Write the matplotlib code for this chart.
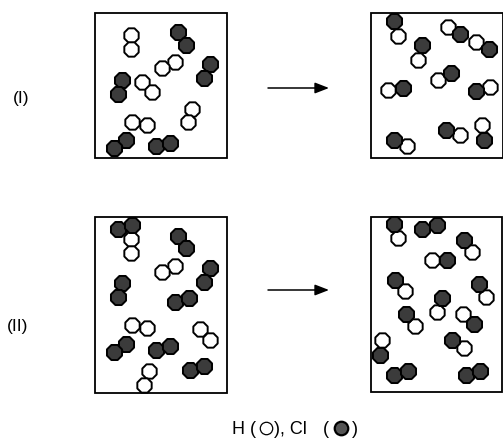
import matplotlib
matplotlib.use('Agg')
import matplotlib.pyplot as plt
from matplotlib.patches import Rectangle

plt.rcParams['font.family'] = ['Liberation Sans', 'DejaVu Sans']

# atom centres, in image pixels (x, y)
top_left_h = [(131, 35), (131, 49), (175, 62), (162, 68), (142, 82), (152, 92),
              (192, 109), (188, 122), (132, 122), (147, 125)]
top_left_cl = [(178, 32), (186, 45), (210, 64), (204, 78), (122, 80), (118, 94),
               (126, 140), (114, 148), (156, 146), (170, 143)]

top_right_h = [(398, 36), (418, 60), (448, 27), (476, 42), (438, 80), (388, 90),
               (490, 87), (460, 135), (407, 146), (482, 125)]
top_right_cl = [(394, 21), (422, 45), (460, 34), (489, 49), (451, 73), (403, 88),
                (476, 91), (446, 130), (394, 140), (484, 140)]

bottom_left_h = [(131, 239), (131, 253), (175, 266), (162, 272), (132, 325), (147, 328),
                 (200, 329), (210, 340), (149, 371), (144, 385)]
bottom_left_cl = [(118, 229), (132, 225), (178, 236), (186, 248), (210, 268), (204, 282),
                  (122, 283), (118, 297), (175, 302), (189, 298), (126, 344), (114, 352),
                  (156, 350), (170, 346), (190, 370), (204, 366)]

bottom_right_h = [(398, 238), (472, 252), (432, 260), (405, 291), (486, 297), (437, 312),
                  (415, 326), (463, 314), (464, 348), (382, 340)]
bottom_right_cl = [(394, 224), (422, 229), (437, 225), (464, 240), (447, 260), (395, 280),
                   (479, 284), (442, 298), (406, 314), (474, 324), (452, 340), (380, 355),
                   (394, 375), (408, 371), (466, 375), (480, 371)]

fig = plt.figure(figsize=(5.03, 4.38), dpi=100)
ax = fig.add_axes([0, 0, 1, 1])
ax.set_xlim(0, 503)
ax.set_ylim(438, 0)
ax.axis('off')

# boxes
for x0, y0, x1, y1 in [(95, 13, 227, 158), (371, 13, 503, 158),
                       (95, 217, 227, 393), (371, 217, 502, 392)]:
    ax.add_patch(Rectangle((x0, y0), x1 - x0, y1 - y0, fill=False, ec='black', lw=1.3, clip_on=False))


def atoms(points, colour, size, z):
    xs = [p[0] for p in points]
    ys = [p[1] for p in points]
    ax.scatter(xs, ys, s=size, marker='8', facecolor=colour, edgecolor='black', linewidth=1.4, zorder=z)


for h, cl in [(top_left_h, top_left_cl), (top_right_h, top_right_cl),
              (bottom_left_h, bottom_left_cl), (bottom_right_h, bottom_right_cl)]:
    atoms(h, 'white', 125, 3)
    atoms(cl, '#3b3b3b', 138, 4)

# reaction arrows
for y in (88, 290):
    ax.annotate('', xy=(329, y), xytext=(268, y),
                arrowprops=dict(arrowstyle='-|>,head_length=0.85,head_width=0.33', color='black',
                                lw=1.1, shrinkA=0, shrinkB=0))

ax.text(21, 98, '(I)', fontsize=12.5, ha='center', va='center')
ax.text(18, 326, '(II)', fontsize=12.5, ha='center', va='center')

# key at the bottom
ax.text(232, 429, 'H (', fontsize=13, ha='left', va='center')
ax.scatter([266], [428], s=80, marker='o', facecolor='white', edgecolor='black', linewidth=0.9)
ax.text(274, 429, '), Cl', fontsize=13, ha='left', va='center')
ax.text(323, 429, '(', fontsize=13, ha='left', va='center')
ax.scatter([341], [428], s=95, marker='o', facecolor='#555555', edgecolor='black', linewidth=1.6)
ax.text(352, 429, ')', fontsize=13, ha='left', va='center')

fig.savefig('out.png', dpi=100)
